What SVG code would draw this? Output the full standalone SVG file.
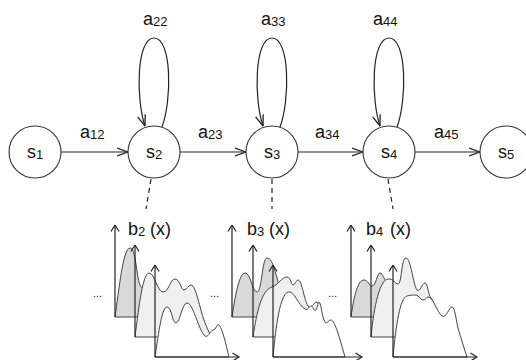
<svg xmlns="http://www.w3.org/2000/svg" width="526" height="360" viewBox="0 0 526 360">
<defs>
<marker id="arr" viewBox="0 0 12 10" refX="11.5" refY="5" markerWidth="12" markerHeight="10" markerUnits="userSpaceOnUse" orient="auto">
<path d="M0.5,1 L11.5,5 L0.5,9" fill="none" stroke="#222" stroke-width="1.3"/>
</marker>
<marker id="ax" viewBox="0 0 8 10" refX="7.5" refY="5" markerWidth="8" markerHeight="10" markerUnits="userSpaceOnUse" orient="auto">
<path d="M1,1 L7.5,5 L1,9" fill="none" stroke="#222" stroke-width="1.2"/>
</marker>
</defs>
<style>
text{font-family:"Liberation Sans",Arial,sans-serif;fill:#111;}
.lbl{font-size:18px;}
.sub{font-size:13px;}
.node{fill:#fff;stroke:#333;stroke-width:1.1;}
.conn{fill:none;stroke:#222;stroke-width:1.2;}
.dash{fill:none;stroke:#222;stroke-width:1.2;stroke-dasharray:5 4;}
.axis{fill:none;stroke:#222;stroke-width:1.2;}
.d1{fill:#d9d9d9;stroke:#444;stroke-width:1;}
.d2{fill:#f0f0f0;stroke:#444;stroke-width:1;}
.d3{fill:#fff;stroke:#444;stroke-width:1;}
.dots{font-size:11px;fill:#222;}
</style>
<g id="connectors">
<line class="conn" x1="61" y1="152" x2="128" y2="152" marker-end="url(#arr)"/>
<line class="conn" x1="180" y1="152" x2="246" y2="152" marker-end="url(#arr)"/>
<line class="conn" x1="298" y1="152" x2="363" y2="152" marker-end="url(#arr)"/>
<line class="conn" x1="415" y1="152" x2="480" y2="152" marker-end="url(#arr)"/>
<path class="conn" d="M162,127 C172,100 172,38 154,38 C136,38 136,100 145,126" marker-end="url(#arr)"/>
<path class="conn" d="M280,127 C290,100 290,38 272,38 C254,38 254,100 263,126" marker-end="url(#arr)"/>
<path class="conn" d="M397,127 C407,100 407,38 389,38 C371,38 371,100 380,126" marker-end="url(#arr)"/>
<line class="dash" x1="151" y1="179" x2="146" y2="209"/>
<line class="dash" x1="272" y1="179" x2="272" y2="209"/>
<line class="dash" x1="388" y1="179" x2="393" y2="209"/>
<text class="lbl" x="80" y="138">a<tspan class="sub" dy="1">12</tspan></text>
<text class="lbl" x="198" y="138">a<tspan class="sub" dy="1">23</tspan></text>
<text class="lbl" x="315" y="138">a<tspan class="sub" dy="1">34</tspan></text>
<text class="lbl" x="434" y="138">a<tspan class="sub" dy="1">45</tspan></text>
<text class="lbl" x="143" y="25">a<tspan class="sub" dy="1">22</tspan></text>
<text class="lbl" x="261" y="25">a<tspan class="sub" dy="1">33</tspan></text>
<text class="lbl" x="373" y="25">a<tspan class="sub" dy="1">44</tspan></text>
</g>
<g id="s1"><circle class="node" cx="35" cy="152" r="26"/><text class="lbl" x="35" y="158" text-anchor="middle">s<tspan class="sub" dy="1">1</tspan></text></g>
<g id="s2"><circle class="node" cx="154" cy="152" r="26"/><text class="lbl" x="154" y="158" text-anchor="middle">s<tspan class="sub" dy="1">2</tspan></text></g>
<g id="s3"><circle class="node" cx="272" cy="152" r="26"/><text class="lbl" x="272" y="158" text-anchor="middle">s<tspan class="sub" dy="1">3</tspan></text></g>
<g id="s4"><circle class="node" cx="389" cy="152" r="26"/><text class="lbl" x="389" y="158" text-anchor="middle">s<tspan class="sub" dy="1">4</tspan></text></g>
<g id="s5"><circle class="node" cx="506" cy="152" r="26"/><text class="lbl" x="506" y="158" text-anchor="middle">s<tspan class="sub" dy="1">5</tspan></text></g>

<g id="b2">
<text class="lbl" x="128" y="235">b<tspan class="sub" dy="1">2</tspan><tspan x="150" dy="-1">(x)</tspan></text>
<path class="d1" d="M115,317 C119,290 123,248 130,248 C136,248 136,275 140,285 C144,295 150,280 156,283 L170,317 Z"/>
<line class="axis" x1="115" y1="317" x2="115" y2="225" marker-end="url(#ax)"/>
<path class="d2" d="M135,337 C139,305 143,273 149,273 C155,273 157,292 163,292 C169,292 170,279 175,279 C180,279 181,290 184,290 C187,290 188,285 191,285 C196,285 200,310 204,320 C207,328 209,333 212,337 Z"/>
<line class="axis" x1="135" y1="337" x2="135" y2="245" marker-end="url(#ax)"/>
<path class="d3" d="M155,357 C159,330 162,307 167,307 C172,307 172,323 176,323 C180,323 182,303 187,303 C193,303 198,328 204,335 C208,340 210,330 213,330 C216,330 217,323 219,325 C223,330 226,345 229,357 Z"/>
<line class="axis" x1="155" y1="357" x2="155" y2="265" marker-end="url(#ax)"/>
<line class="axis" x1="155" y1="357" x2="239" y2="357" marker-end="url(#ax)"/>
</g>
<g id="b3">
<text class="lbl" x="247" y="235">b<tspan class="sub" dy="1">3</tspan><tspan x="269" dy="-1">(x)</tspan></text>
<path class="d1" d="M232,317 C236,290 240,273 245,273 C251,273 252,292 257,292 C262,292 262,258 267,258 C272,258 274,268 277,278 C280,288 282,300 285,317 Z"/>
<line class="axis" x1="232" y1="317" x2="232" y2="225" marker-end="url(#ax)"/>
<path class="d2" d="M253,337 C257,310 262,290 272,287 C278,285 282,277 287,277 C291,277 291,285 293,285 C295,285 296,280 298,280 C302,280 304,300 308,306 C311,310 314,302 317,302 C320,302 321,325 325,337 Z"/>
<line class="axis" x1="253" y1="337" x2="253" y2="245" marker-end="url(#ax)"/>
<path class="d3" d="M273,357 C276,325 280,295 288,292 C294,290 298,305 305,309 C308,311 309,306 311,306 C313,306 314,312 316,310 C318,306 318,302 319,302 C321,302 322,318 325,322 C327,325 328,320 331,320 C335,320 340,340 345,357 Z"/>
<line class="axis" x1="273" y1="357" x2="273" y2="265" marker-end="url(#ax)"/>
<line class="axis" x1="273" y1="357" x2="362" y2="357" marker-end="url(#ax)"/>
</g>
<g id="b4">
<text class="lbl" x="366" y="235">b<tspan class="sub" dy="1">4</tspan><tspan x="390" dy="-1">(x)</tspan></text>
<path class="d1" d="M351,317 C354,295 358,280 364,280 C368,280 369,286 372,286 C376,286 377,273 380,273 C383,273 384,280 387,282 C392,285 395,300 398,317 Z"/>
<line class="axis" x1="351" y1="317" x2="351" y2="225" marker-end="url(#ax)"/>
<path class="d2" d="M371,337 C374,305 380,280 388,279 C393,278 395,284 398,284 C402,284 401,258 406,258 C411,258 413,285 417,290 C420,293 422,283 425,283 C428,283 428,295 431,298 C435,303 438,318 440,337 Z"/>
<line class="axis" x1="371" y1="337" x2="371" y2="245" marker-end="url(#ax)"/>
<path class="d3" d="M393,357 C396,325 400,298 407,296 C411,295 413,295 416,295 C419,295 420,300 423,300 C426,300 426,297 428,297 C433,297 437,312 442,316 C446,319 449,307 452,307 C455,307 456,320 458,328 C461,338 464,348 467,357 Z"/>
<line class="axis" x1="393" y1="357" x2="393" y2="265" marker-end="url(#ax)"/>
<line class="axis" x1="393" y1="357" x2="477" y2="357" marker-end="url(#ax)"/>
</g>
<text class="dots" x="93" y="297">...</text>
<text class="dots" x="210" y="297">...</text>
<text class="dots" x="328" y="297">...</text>
</svg>
